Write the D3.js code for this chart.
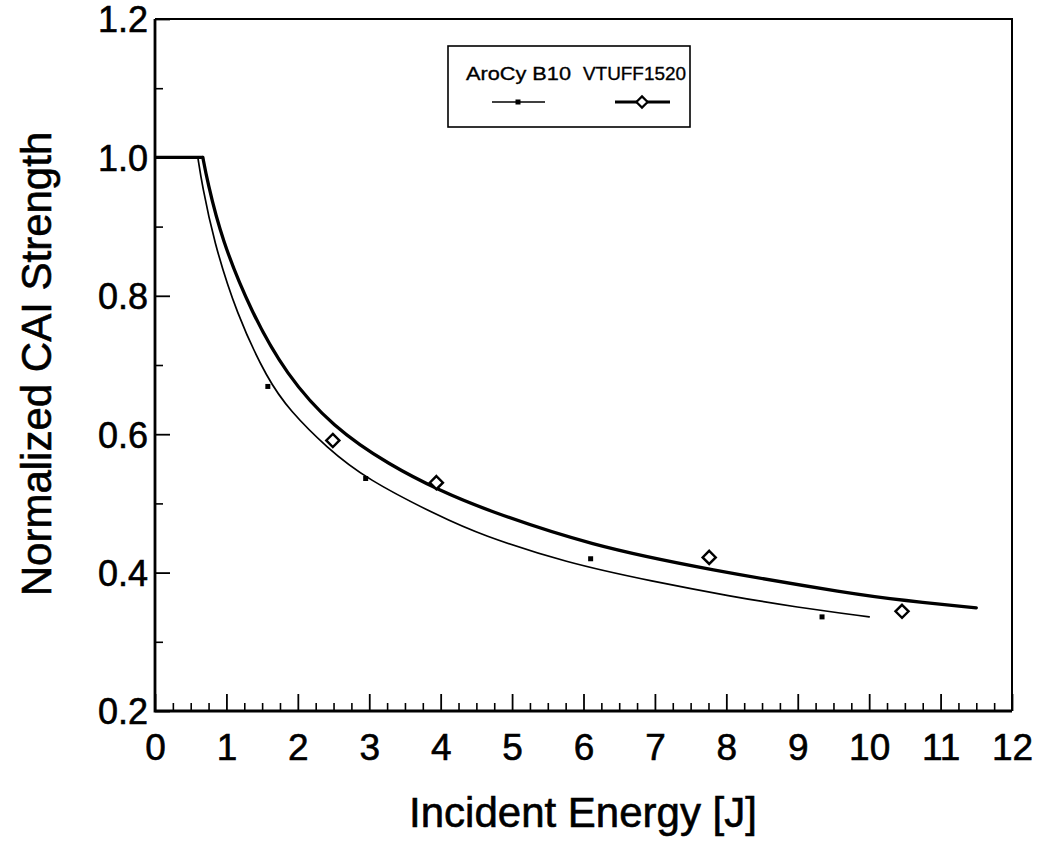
<!DOCTYPE html>
<html>
<head>
<meta charset="utf-8">
<script src="https://cdn.jsdelivr.net/npm/d3@7"></script>
<style>
  html, body { margin: 0; padding: 0; background: #fff; }
  svg { display: block; font-family: "Liberation Sans", Arial, Helvetica, sans-serif; }
  .ink { fill: #000; stroke: #000; stroke-width: 0.6px; }
  .ink-thin { fill: #000; stroke: #000; stroke-width: 0.35px; }
</style>
</head>
<body>
<svg id="chart" width="1045" height="841"></svg>
<script>
// Normalized CAI strength vs. incident energy, two material systems.
const seriesNames = ["AroCy B10", "VTUFF1520"];

// Measured points
const aroEnergy = [1.58, 2.95, 6.10, 9.34];
const aroStrength = [0.669, 0.536, 0.420, 0.336];
const vtEnergy = [2.49, 3.94, 7.76, 10.46];
const vtStrength = [0.591, 0.530, 0.422, 0.344];

// Fitted curves (plateau at 1.0, then decay)
const aroCurveEnergy = [0, 0.60, 0.66, 0.82, 1.14, 1.58, 1.89, 2.40, 2.96, 3.99, 4.55, 5.76, 6.98, 8.05, 8.98, 10.0];
const aroCurveStrength = [1.0, 1.0, 0.960, 0.880, 0.774, 0.678, 0.634, 0.581, 0.535, 0.481, 0.455, 0.414, 0.387, 0.366, 0.350, 0.336];
const vtCurveEnergy = [0, 0.67, 0.73, 0.93, 1.35, 1.83, 2.49, 3.29, 4.00, 4.62, 6.10, 7.76, 9.78, 10.46, 11.5];
const vtCurveStrength = [1.0, 1.0, 0.967, 0.882, 0.776, 0.687, 0.610, 0.555, 0.518, 0.491, 0.439, 0.404, 0.369, 0.360, 0.349];

// Axis ticks
const xMajorTicks = [0, 1, 2, 3, 4, 5, 6, 7, 8, 9, 10, 11, 12];
const yMajorTicks = [0.2, 0.4, 0.6, 0.8, 1.0, 1.2];
const yTickLabels = ["0.2", "0.4", "0.6", "0.8", "1.0", "1.2"];

const svg = d3.select("#chart");
const plotLeft = 155, plotRight = 1012, plotTop = 19, plotBottom = 711;

const x = d3.scaleLinear().domain([0, 12]).range([plotLeft, plotRight]);
const y = d3.scaleLinear().domain([0.2, 1.2]).range([plotBottom, plotTop]);

const xMinor = d3.range(0, 12.001, 0.25).filter(v => Math.abs(v - Math.round(v)) > 1e-6);
const yMinor = d3.range(0.3, 1.2, 0.2);

// Minor ticks (inward)
svg.append("g").attr("transform", `translate(0,${plotBottom})`)
  .call(d3.axisBottom(x).tickValues(xMinor).tickSize(-8).tickFormat(""))
  .call(g => g.select(".domain").remove())
  .selectAll("line").attr("stroke", "#000").attr("stroke-width", 1.6);
svg.append("g").attr("transform", `translate(${plotLeft},0)`)
  .call(d3.axisLeft(y).tickValues(yMinor).tickSize(-8).tickFormat(""))
  .call(g => g.select(".domain").remove())
  .selectAll("line").attr("stroke", "#000").attr("stroke-width", 1.6);

// Major ticks + labels
const xAxis = svg.append("g").attr("transform", `translate(0,${plotBottom})`)
  .call(d3.axisBottom(x).tickValues(xMajorTicks).tickSize(-17).tickPadding(49).tickFormat(d3.format("d")));
xAxis.select(".domain").remove();
xAxis.selectAll("line").attr("stroke", "#000").attr("stroke-width", 1.8);
xAxis.selectAll("text").attr("font-size", 37).attr("class", "ink")
  .attr("font-family", "Liberation Sans, Arial, sans-serif").attr("dy", 0);

const yAxis = svg.append("g").attr("transform", `translate(${plotLeft},0)`)
  .call(d3.axisLeft(y).tickValues(yMajorTicks).tickSize(-15).tickPadding(7)
    .tickFormat((d, i) => yTickLabels[i]));
yAxis.select(".domain").remove();
yAxis.selectAll("line").attr("stroke", "#000").attr("stroke-width", 1.8);
yAxis.selectAll("text").attr("font-size", 36).attr("class", "ink")
  .attr("font-family", "Liberation Sans, Arial, sans-serif").attr("dy", "0.36em");

// Plot frame
svg.append("path")
  .attr("d", `M${plotLeft},${plotTop}H${plotRight}V${plotBottom}`)
  .attr("fill", "none").attr("stroke", "#000").attr("stroke-width", 2);
svg.append("path")
  .attr("d", `M${plotLeft},${plotTop}V${plotBottom}H${plotRight}`)
  .attr("fill", "none").attr("stroke", "#000").attr("stroke-width", 2.8);

// Curves: plateau drawn straight, decay drawn smooth from the knee on
function drawCurve(es, vs, width) {
  const pts = es.map((e, i) => [e, vs[i]]);
  const flat = pts.slice(0, 2);
  const decay = pts.slice(1);
  svg.append("path").datum(flat)
    .attr("d", d3.line().x(d => x(d[0])).y(d => y(d[1])))
    .attr("fill", "none").attr("stroke", "#000").attr("stroke-width", width);
  svg.append("path").datum(decay)
    .attr("d", d3.line().x(d => x(d[0])).y(d => y(d[1])).curve(d3.curveBasis))
    .attr("fill", "none").attr("stroke", "#000").attr("stroke-width", width)
    .attr("stroke-linejoin", "round").attr("stroke-linecap", "round");
}
drawCurve(aroCurveEnergy, aroCurveStrength, 1.7);
drawCurve(vtCurveEnergy, vtCurveStrength, 3.3);

// Markers
svg.append("g").selectAll("rect").data(aroEnergy).join("rect")
  .attr("x", (d) => x(d) - 2.5).attr("y", (d, i) => y(aroStrength[i]) - 2.5)
  .attr("width", 5).attr("height", 5).attr("fill", "#000");

const diamond = d3.symbol().type(d3.symbolDiamond2).size(110);
svg.append("g").selectAll("path").data(vtEnergy).join("path")
  .attr("transform", (d, i) => `translate(${x(d)},${y(vtStrength[i])})`)
  .attr("d", diamond).attr("fill", "#fff").attr("stroke", "#000").attr("stroke-width", 2.4);

// Legend
const legend = svg.append("g");
legend.append("rect").attr("x", 448).attr("y", 46).attr("width", 242).attr("height", 81)
  .attr("fill", "#fff").attr("stroke", "#000").attr("stroke-width", 1.6);
legend.append("text").attr("x", 466).attr("y", 80).attr("font-size", 19).attr("class", "ink-thin")
  .attr("textLength", 105).attr("lengthAdjust", "spacingAndGlyphs")
  .text(seriesNames[0]);
legend.append("text").attr("x", 583).attr("y", 80).attr("font-size", 19).attr("class", "ink-thin")
  .attr("textLength", 103).attr("lengthAdjust", "spacingAndGlyphs")
  .text(seriesNames[1]);
legend.append("line").attr("x1", 492).attr("x2", 545).attr("y1", 102).attr("y2", 102)
  .attr("stroke", "#000").attr("stroke-width", 1.4);
legend.append("rect").attr("x", 515.5).attr("y", 99.5).attr("width", 5).attr("height", 5).attr("fill", "#000");
legend.append("line").attr("x1", 615).attr("x2", 670).attr("y1", 102).attr("y2", 102)
  .attr("stroke", "#000").attr("stroke-width", 2.8);
legend.append("path").attr("transform", "translate(642,102)")
  .attr("d", d3.symbol().type(d3.symbolDiamond2).size(80))
  .attr("fill", "#fff").attr("stroke", "#000").attr("stroke-width", 2.2);

// Axis titles
svg.append("text").attr("x", 583).attr("y", 827).attr("text-anchor", "middle")
  .attr("font-size", 42).attr("class", "ink").text("Incident Energy [J]");
svg.append("text").attr("transform", "translate(51,364) rotate(-90)")
  .attr("text-anchor", "middle").attr("font-size", 42).attr("class", "ink")
  .text("Normalized CAI Strength");
</script>
</body>
</html>
